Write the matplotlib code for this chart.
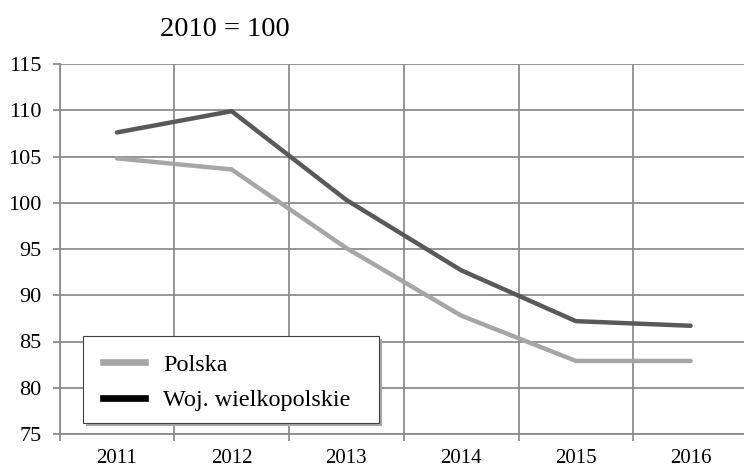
import matplotlib.pyplot as plt
import numpy as np
from matplotlib.lines import Line2D
from matplotlib.patches import Rectangle
import matplotlib.transforms as mtransforms

years = ['2011', '2012', '2013', '2014', '2015', '2016']
polska = [104.8, 103.6, 95.1, 87.8, 82.9, 82.9]
wielkopolskie = [107.6, 109.9, 100.3, 92.7, 87.2, 86.7]

plt.rcParams['font.family'] = ['Liberation Serif', 'DejaVu Serif']

fig = plt.figure(figsize=(7.44, 4.67), dpi=100)
ax = fig.add_axes([59.5 / 744, 33 / 467, 688.5 / 744, 370 / 467])

x = np.arange(len(years))
ax.plot(x, wielkopolskie, color='#595959', lw=3.2, solid_capstyle='round', zorder=3)
ax.plot(x, polska, color='#a6a6a6', lw=3.2, solid_capstyle='round', zorder=3)

ax.set_xlim(-0.5, len(years) - 0.5)
ax.set_ylim(75, 115)
ax.set_yticks(range(75, 116, 5))
ax.set_xticks(x)
ax.set_xticklabels(years)
ax.set_xticks(np.arange(-0.5, len(years)), minor=True)

grid_c = '#8c8c8c'
ax.grid(True, axis='y', color=grid_c, lw=1.3)
ax.grid(True, axis='x', which='minor', color=grid_c, lw=1.3)
ax.set_axisbelow(True)
for s in ['top', 'right']:
    ax.spines[s].set_visible(False)
for s in ['left', 'bottom']:
    ax.spines[s].set_color(grid_c)
    ax.spines[s].set_linewidth(1.3)

ax.tick_params(axis='x', which='major', length=0, pad=10.5, labelsize=15)
ax.tick_params(axis='x', which='minor', length=5, width=1.3, color=grid_c)
ax.tick_params(axis='y', length=5, width=1.3, color=grid_c, labelsize=16, pad=8)

fig.text(160 / 744, 1 - 30 / 467, '2010 = 100', fontsize=20.5, va='center', ha='left')

# legend box drawn by hand so the padding matches
box = (0.0341, 0.0297, 0.4299, 0.235)
shadow_tr = mtransforms.offset_copy(ax.transAxes, fig=fig, x=3, y=-3, units='dots')
ax.add_patch(Rectangle(box[:2], box[2], box[3], transform=shadow_tr,
                       facecolor='#a8a8a8', edgecolor='none', zorder=4, clip_on=False))
ax.add_patch(Rectangle(box[:2], box[2], box[3], transform=ax.transAxes,
                       facecolor='white', edgecolor='#404040', lw=0.8, zorder=4.5,
                       clip_on=False))

handles = [Line2D([], [], color='#a6a6a6', lw=4.8),
           Line2D([], [], color='#000000', lw=4.8)]
leg = ax.legend(handles, ['Polska', 'Woj. wielkopolskie'],
                loc='upper left', bbox_to_anchor=(0.0632, 0.217),
                fontsize=17.4, frameon=False, handlelength=1.75, handletextpad=0.75,
                labelspacing=0.56, borderpad=0, borderaxespad=0)
leg.set_zorder(6)

fig.savefig('out.png', dpi=100)
